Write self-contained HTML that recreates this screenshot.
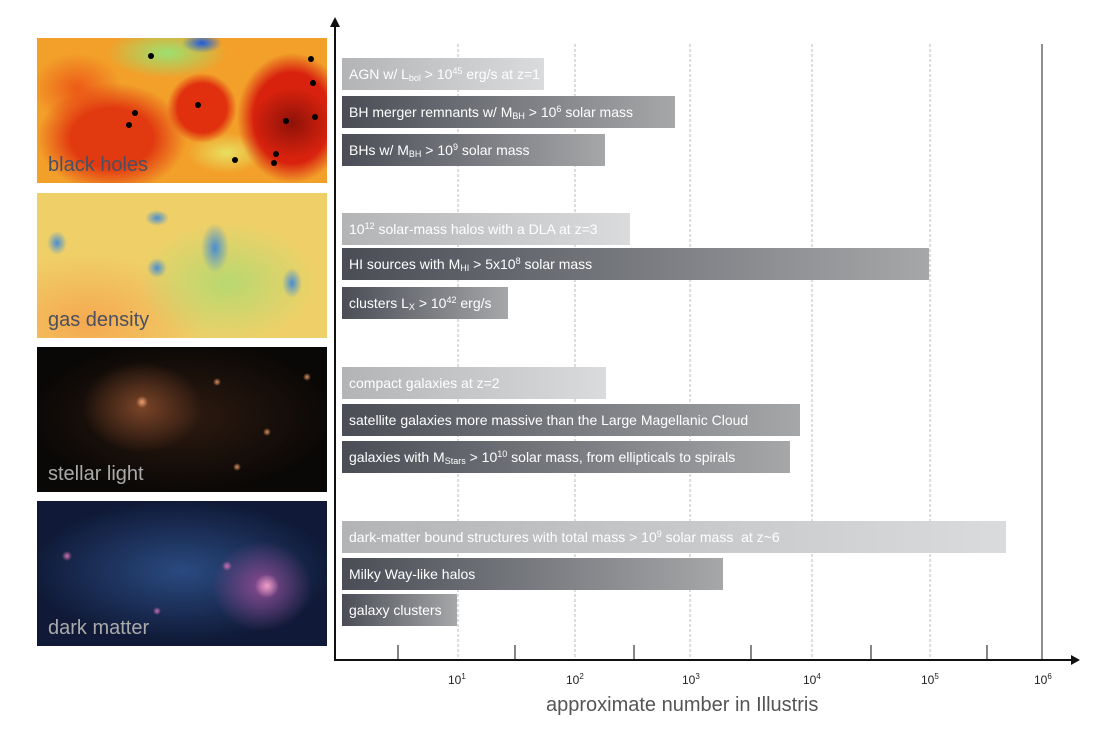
<!DOCTYPE html>
<html><head><style>
body{margin:0;background:#fff;width:1120px;height:739px;position:relative;overflow:hidden;font-family:"Liberation Sans",sans-serif}
.img{position:absolute;left:37px;width:290px;height:145px;overflow:hidden}
.img span{position:absolute;left:11px;bottom:6px;font-size:20px;color:#4a5060}
.bar{position:absolute;left:342px;height:32px;color:#fff;font-size:14px;line-height:32px;padding-left:7px;box-sizing:border-box;white-space:nowrap}
.bar sup{font-size:9px;vertical-align:5px;line-height:0}
.bar sub{font-size:9px;vertical-align:-2px;line-height:0}
.d{background:linear-gradient(90deg,#4a4d55,#8a8c90 70%,#a5a7a8)}
.l{background:linear-gradient(90deg,#b3b4b6,#dadbdc)}
.dot{position:absolute;width:6px;height:6px;border-radius:50%;background:#000}
.t{position:absolute;top:672px;font-size:12px;color:#222}
.t sup{font-size:8px}
</style></head><body>
<div class="img" style="top:38px;background:
radial-gradient(ellipse 40px 35px at 255px 85px,#8e1208,transparent),
radial-gradient(ellipse 55px 65px at 255px 80px,#d8220e 70%,transparent 100%),
radial-gradient(ellipse 35px 35px at 165px 70px,#e0300e 70%,transparent),
radial-gradient(ellipse 75px 55px at 75px 100px,#e23a10 55%,transparent),
radial-gradient(ellipse 45px 35px at 40px 50px,#ee5a16,transparent),
radial-gradient(ellipse 20px 10px at 165px 5px,#1a5be0,transparent),
radial-gradient(ellipse 60px 25px at 130px 15px,#9ce070,transparent),
radial-gradient(ellipse 40px 20px at 190px 115px,#e8e060,transparent),
#f2a02a;">
<div class="dot" style="left:111px;top:15px"></div><div class="dot" style="left:271px;top:18px"></div>
<div class="dot" style="left:273px;top:42px"></div><div class="dot" style="left:158px;top:64px"></div>
<div class="dot" style="left:95px;top:72px"></div><div class="dot" style="left:89px;top:84px"></div>
<div class="dot" style="left:246px;top:80px"></div><div class="dot" style="left:275px;top:76px"></div>
<div class="dot" style="left:236px;top:113px"></div><div class="dot" style="left:234px;top:122px"></div>
<div class="dot" style="left:195px;top:119px"></div>
<span>black holes</span></div>
<div class="img" style="top:193px;background:
radial-gradient(ellipse 10px 12px at 20px 50px,#4a8ed0,transparent),
radial-gradient(ellipse 12px 8px at 120px 25px,#4a8ed0,transparent),
radial-gradient(ellipse 14px 25px at 178px 55px,#4a8ed0,transparent),
radial-gradient(ellipse 10px 10px at 120px 75px,#4a8ed0,transparent),
radial-gradient(ellipse 10px 15px at 255px 90px,#4a8ed0,transparent),
radial-gradient(ellipse 90px 60px at 190px 90px,#b8d870,transparent),
radial-gradient(ellipse 120px 70px at 50px 130px,#f5a850,transparent),
#efd068;">
<span>gas density</span></div>
<div class="img" style="top:347px;background:
radial-gradient(circle 6px at 105px 55px,#f0a070,transparent),
radial-gradient(circle 4px at 180px 35px,#e09060,transparent),
radial-gradient(circle 4px at 230px 85px,#e09060,transparent),
radial-gradient(circle 4px at 270px 30px,#e09060,transparent),
radial-gradient(circle 4px at 200px 120px,#e09060,transparent),
radial-gradient(ellipse 60px 45px at 105px 60px,#7a4428,transparent),
radial-gradient(ellipse 150px 75px at 145px 70px,#2e1a10,transparent),
#0a0806;">
<span style="color:#aaa">stellar light</span></div>
<div class="img" style="top:501px;background:
radial-gradient(circle 12px at 230px 85px,#f0a0c8,transparent),
radial-gradient(circle 5px at 30px 55px,#d070b0,transparent),
radial-gradient(circle 5px at 190px 65px,#d070b0,transparent),
radial-gradient(circle 4px at 120px 110px,#d070b0,transparent),
radial-gradient(ellipse 50px 45px at 225px 85px,#8a4a90,transparent),
radial-gradient(ellipse 150px 70px at 145px 70px,#2a4a80,transparent),
#101a38;">
<span style="color:#aaa">dark matter</span></div>

<svg style="position:absolute;left:0;top:0" width="1120" height="739">
<g stroke="#bbb" stroke-dasharray="3,2" stroke-width="1">
<line x1="458" y1="44" x2="458" y2="660"/><line x1="575" y1="44" x2="575" y2="660"/>
<line x1="690" y1="44" x2="690" y2="660"/><line x1="812" y1="44" x2="812" y2="660"/>
<line x1="930" y1="44" x2="930" y2="660"/></g>
<line x1="1042" y1="44" x2="1042" y2="660" stroke="#444" stroke-width="1.2"/>
<g stroke="#333" stroke-width="1.2">
<line x1="398" y1="645" x2="398" y2="660"/><line x1="515" y1="645" x2="515" y2="660"/>
<line x1="634" y1="645" x2="634" y2="660"/><line x1="751" y1="645" x2="751" y2="660"/>
<line x1="871" y1="645" x2="871" y2="660"/><line x1="987" y1="645" x2="987" y2="660"/></g>
<line x1="335" y1="26" x2="335" y2="661" stroke="#111" stroke-width="2"/>
<polygon points="330,27 340,27 335,17" fill="#111"/>
<line x1="334" y1="660" x2="1072" y2="660" stroke="#111" stroke-width="2"/>
<polygon points="1071,655 1071,665 1080,660" fill="#111"/>
</svg>

<div class="bar l" style="top:58px;width:202px">AGN w/ L<sub>bol</sub> &gt; 10<sup>45</sup> erg/s at z=1</div>
<div class="bar d" style="top:96px;width:333px">BH merger remnants w/ M<sub>BH</sub> &gt; 10<sup>6</sup> solar mass</div>
<div class="bar d" style="top:134px;width:263px">BHs w/ M<sub>BH</sub> &gt; 10<sup>9</sup> solar mass</div>
<div class="bar l" style="top:213px;width:288px">10<sup>12</sup> solar-mass halos with a DLA at z=3</div>
<div class="bar d" style="top:248px;width:587px">HI sources with M<sub>HI</sub> &gt; 5x10<sup>8</sup> solar mass</div>
<div class="bar d" style="top:287px;width:166px">clusters L<sub>X</sub> &gt; 10<sup>42</sup> erg/s</div>
<div class="bar l" style="top:367px;width:264px">compact galaxies at z=2</div>
<div class="bar d" style="top:404px;width:458px">satellite galaxies more massive than the Large Magellanic Cloud</div>
<div class="bar d" style="top:441px;width:448px">galaxies with M<sub>Stars</sub> &gt; 10<sup>10</sup> solar mass, from ellipticals to spirals</div>
<div class="bar l" style="top:521px;width:664px">dark-matter bound structures with total mass &gt; 10<sup>9</sup> solar mass &nbsp;at z~6</div>
<div class="bar d" style="top:558px;width:381px">Milky Way-like halos</div>
<div class="bar d" style="top:594px;width:115px">galaxy clusters</div>

<div class="t" style="left:448px">10<sup>1</sup></div>
<div class="t" style="left:566px">10<sup>2</sup></div>
<div class="t" style="left:682px">10<sup>3</sup></div>
<div class="t" style="left:803px">10<sup>4</sup></div>
<div class="t" style="left:921px">10<sup>5</sup></div>
<div class="t" style="left:1034px">10<sup>6</sup></div>
<div style="position:absolute;left:546px;top:694px;font-size:20px;color:#555">approximate number in Illustris</div>
</body></html>
